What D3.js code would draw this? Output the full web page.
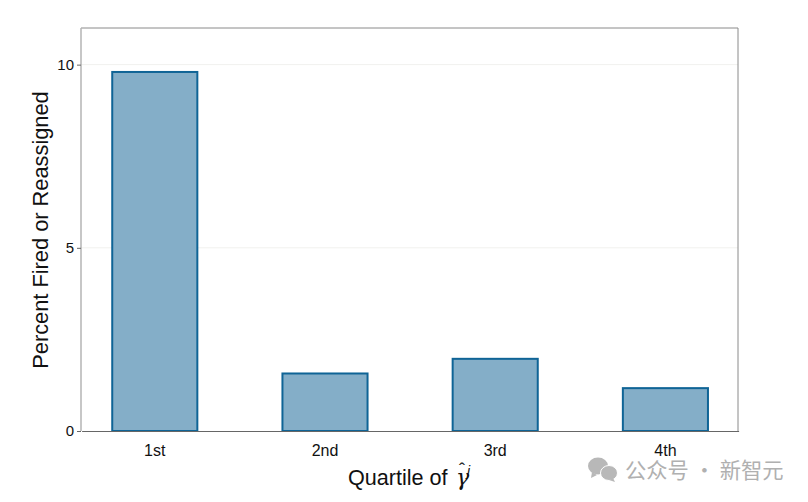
<!DOCTYPE html>
<html>
<head>
<meta charset="utf-8">
<script src="https://d3js.org/d3.v7.min.js"></script>
<style>
  html, body { margin: 0; background: #fff; }
  svg { display: block; }
  text { font-family: "Liberation Sans", Arial, sans-serif; fill: #111; }
</style>
</head>
<body>
<script>
var categories = ['1st', '2nd', '3rd', '4th'];
var values = [9.8, 1.57, 1.97, 1.17];
var yTicks = [0, 5, 10];
var yDomain = [0, 11];

var width = 808,
    height = 502,
    margin = { top: 28, right: 70, bottom: 71, left: 81 };

var svg = d3.select('body')
    .append('svg')
    .attr('width', width)
    .attr('height', height);

// bars sit a little right of centre in the frame
var xScale = d3.scaleBand()
    .domain(categories)
    .range([margin.left + 0.6, width - margin.right + 0.6])
    .paddingInner(0.5)
    .paddingOuter(0.18);
var yScale = d3.scaleLinear()
    .domain(yDomain)
    .range([height - margin.bottom, margin.top]);

// gridlines
svg.append('g')
    .selectAll('line')
    .data(yTicks.slice(1))
    .join('line')
    .attr('x1', margin.left)
    .attr('x2', width - margin.right)
    .attr('y1', d => yScale(d))
    .attr('y2', d => yScale(d))
    .attr('stroke', '#f1f1ee')
    .attr('stroke-width', 1);

// plot frame, left side is lighter than the others
var frame = svg.append('g').attr('fill', 'none');
frame.append('path')
    .attr('d', `M${margin.left},${margin.top}H${width - margin.right}V${height - margin.bottom}`)
    .attr('stroke', '#8a8a8a');
frame.append('line')
    .attr('x1', margin.left).attr('x2', margin.left)
    .attr('y1', margin.top).attr('y2', height - margin.bottom)
    .attr('stroke', '#b4b4b4')
    .attr('stroke-width', 1.5);

svg.append('g')
    .selectAll('rect')
    .data(values)
    .join('rect')
    .attr('x', (d, i) => xScale(categories[i]))
    .attr('y', d => yScale(d))
    .attr('width', xScale.bandwidth())
    .attr('height', d => yScale(0) - yScale(d))
    .attr('fill', '#84aec8')
    .attr('stroke', '#0f6496')
    .attr('stroke-width', 2);

var xAxis = d3.axisBottom(xScale).tickSize(0).tickPadding(14);
var yAxis = d3.axisLeft(yScale).tickValues(yTicks).tickSize(4).tickPadding(3).tickFormat(d3.format('d'));

var gx = svg.append('g')
    .attr('transform', `translate(0, ${height - margin.bottom})`)
    .call(xAxis);
gx.select('.domain').attr('stroke', '#666').attr('stroke-width', 1.2);
gx.selectAll('text').style('font-size', '16px').attr('fill', '#111');

var gy = svg.append('g')
    .attr('transform', `translate(${margin.left}, 0)`)
    .call(yAxis);
gy.select('.domain').remove();
gy.selectAll('line').attr('stroke', '#666');
gy.selectAll('text').style('font-size', '15px').attr('fill', '#111');

svg.append('text')
    .attr('transform', 'translate(48, 230) rotate(-90)')
    .attr('text-anchor', 'middle')
    .style('font-size', '21.8px')
    .text('Percent Fired or Reassigned');

// x title with gamma hat, superscript j
var xTitle = svg.append('text')
    .attr('x', 348)
    .attr('y', 485)
    .style('font-size', '21.6px');
xTitle.append('tspan').text('Quartile of');
xTitle.append('tspan')
    .attr('x', 456)
    .style('font-family', '"DejaVu Serif", serif')
    .style('font-style', 'italic')
    .style('font-size', '22px')
    .text('\u03b3');
xTitle.append('tspan')
    .attr('x', 467)
    .attr('dy', -9)
    .style('font-style', 'italic')
    .style('font-size', '14px')
    .text('j');
svg.append('text')
    .attr('x', 462)
    .attr('y', 476)
    .attr('text-anchor', 'middle')
    .style('font-size', '18px')
    .text('\u02c6');

// watermark
var mark = svg.append('g').attr('fill', '#b8b8b8');
mark.append('ellipse').attr('cx', 598).attr('cy', 466).attr('rx', 10).attr('ry', 8.5);
mark.append('path').attr('d', 'M592,472 l-1,6 l6,-3 z');
mark.append('ellipse').attr('cx', 609).attr('cy', 473).attr('rx', 8.5).attr('ry', 7.5).attr('stroke', '#fff').attr('stroke-width', 1);
mark.append('path').attr('d', 'M613,478 l2,4 l-6,-2 z');
svg.append('text')
    .attr('x', 625)
    .attr('y', 478)
    .style('font-family', '"Noto Sans CJK SC"')
    .style('font-size', '21.3px')
    .style('fill', '#b0b0b0')
    .text('公众号 · 新智元');
</script>
</body>
</html>
